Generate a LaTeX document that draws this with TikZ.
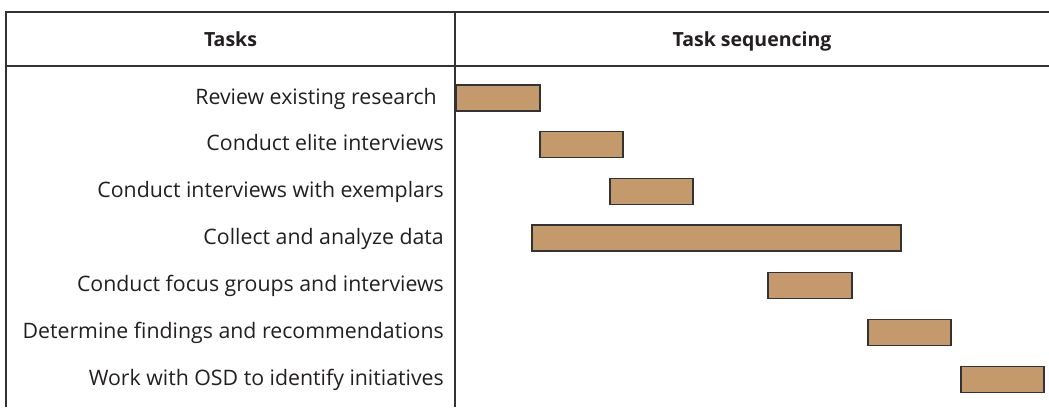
\documentclass[tikz,border=0pt]{standalone}
\usepackage{fontspec}
\setmainfont{Open Sans}
\definecolor{barfill}{HTML}{C49A6C}
\definecolor{ink}{HTML}{231F20}
\definecolor{rule}{HTML}{333333}
\begin{document}
\begin{tikzpicture}[x=1pt,y=-1pt,
  rulestyle/.style={draw=rule,line width=2pt},
  head/.style={font=\fontsize{19.5}{22}\selectfont\bfseries,text=ink,inner sep=0pt,anchor=base},
  task/.style={font=\fontsize{21.3}{24}\selectfont,text=ink,anchor=base east,inner sep=0pt},
  bar/.style={draw=rule,fill=barfill,line width=1.3pt,inner sep=0pt,minimum height=26pt}]
\useasboundingbox (0,0) rectangle (1049,407);
% table frame
\draw[rulestyle] (1049,12) -- (6,12) -- (6,407);
\draw[rulestyle] (6,66) -- (1049,66);
\draw[rulestyle] (455,12) -- (455,407);
% headers
\node[head] (h1) at (230.5,46) {Tasks};
\node[head] (h2) at (752,46) {Task sequencing};
% task labels
\node[task] (t1) at (437,104) {Review existing research};
\node[task] (t2) at (444,150.5) {Conduct elite interviews};
\node[task] (t3) at (444,197.5) {Conduct interviews with exemplars};
\node[task] (t4) at (444,244) {Collect and analyze data};
\node[task] (t5) at (444,291.5) {Conduct focus groups and interviews};
\node[task] (t6) at (444,338.5) {Determine findings and recommendations};
\node[task] (t7) at (444,385.5) {Work with OSD to identify initiatives};
% schedule bars
\node[bar,minimum width=84pt]  (b1) at (498,98) {};
\node[bar,minimum width=83pt]  (b2) at (581.5,144.5) {};
\node[bar,minimum width=83pt]  (b3) at (651.5,191.5) {};
\node[bar,minimum width=369pt] (b4) at (716.5,238) {};
\node[bar,minimum width=84pt]  (b5) at (810,285.5) {};
\node[bar,minimum width=83pt]  (b6) at (909.5,332.5) {};
\node[bar,minimum width=83pt]  (b7) at (1002.5,379.5) {};
\end{tikzpicture}
\end{document}
